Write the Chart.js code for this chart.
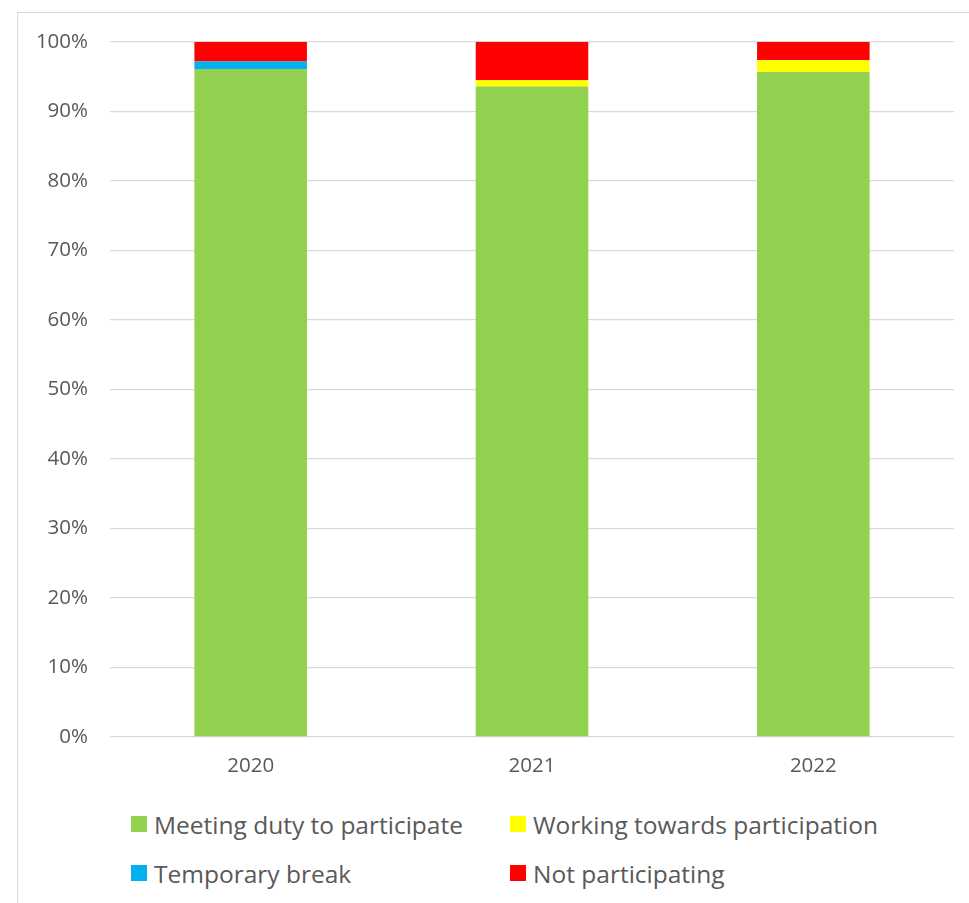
<!DOCTYPE html>
<html>
<head>
  <meta charset="UTF-8">
  <title>Participation by year</title>
  <script src="https://cdn.jsdelivr.net/npm/chart.js"></script>
  <style>
    body { margin: 0; background: #fff; font-family: "Open Sans", "Noto Sans", sans-serif; }
    #wrap { position: relative; width: 969px; height: 903px; overflow: hidden; }
    #frame {
      position: absolute; left: 17px; top: 12px; width: 1000px; height: 1000px;
      border-left: 1.5px solid #d9d9d9; border-top: 1.5px solid #d9d9d9;
    }
    #chart { position: absolute; left: 0; top: 0; }
    .legend-item {
      position: absolute; display: flex; align-items: center;
      font-size: 24.5px; color: #595959; white-space: nowrap;
    }
    .legend-item span.box { display: inline-block; width: 16px; height: 16px; margin-right: 7px; }
  </style>
</head>
<body>
  <div id="wrap">
    <div id="frame"></div>
    <canvas id="chart" width="969" height="790"></canvas>
    <div id="legend"></div>
  </div>

  <script>
    const years = ["2020", "2021", "2022"];
    const meetingDuty = [96.1, 93.6, 95.7];
    const workingTowards = [0, 0.9, 1.7];
    const temporaryBreak = [1.1, 0, 0];
    const notParticipating = [2.8, 5.5, 2.6];
    const yTicks = [0, 10, 20, 30, 40, 50, 60, 70, 80, 90, 100];

    const series = [
      { label: "Meeting duty to participate", data: meetingDuty, color: "#92D050" },
      { label: "Working towards participation", data: workingTowards, color: "#FFFF00" },
      { label: "Temporary break", data: temporaryBreak, color: "#00B0F0" },
      { label: "Not participating", data: notParticipating, color: "#FF0000" }
    ];

    const tickFont = { family: "'Open Sans', 'Noto Sans', sans-serif", size: 20.5 };

    new Chart(document.getElementById("chart").getContext("2d"), {
      type: "bar",
      data: {
        labels: years,
        datasets: series.map(s => ({
          label: s.label,
          data: s.data,
          backgroundColor: s.color,
          borderWidth: 0,
          barPercentage: 0.4,
          categoryPercentage: 1
        }))
      },
      options: {
        responsive: false,
        animation: false,
        layout: { padding: { top: 42, right: 15, left: 0, bottom: 0 } },
        plugins: { legend: { display: false }, tooltip: { enabled: false } },
        scales: {
          x: {
            stacked: true,
            grid: { display: false, drawTicks: false },
            border: { display: false },
            ticks: { color: "#595959", font: tickFont, padding: 17 },
            afterFit: s => { s.height = 53; }
          },
          y: {
            stacked: true,
            min: 0,
            max: 100,
            afterBuildTicks: s => { s.ticks = yTicks.map(v => ({ value: v })); },
            grid: { color: "#d9d9d9", lineWidth: 1.3, drawTicks: false },
            border: { display: false },
            ticks: { color: "#595959", font: tickFont, padding: 22, callback: v => v + "%" },
            afterFit: s => { s.width = 110; }
          }
        }
      }
    });

    // Excel-style two column legend
    const legend = document.getElementById("legend");
    const cols = [131, 510];
    const rows = [824, 873];
    series.forEach((s, i) => {
      const item = document.createElement("div");
      item.className = "legend-item";
      item.style.left = cols[i % 2] + "px";
      item.style.top = (rows[Math.floor(i / 2)] - 15) + "px";
      item.style.height = "30px";
      item.innerHTML = `<span class="box" style="background:${s.color}"></span>${s.label}`;
      legend.appendChild(item);
    });
  </script>
</body>
</html>
